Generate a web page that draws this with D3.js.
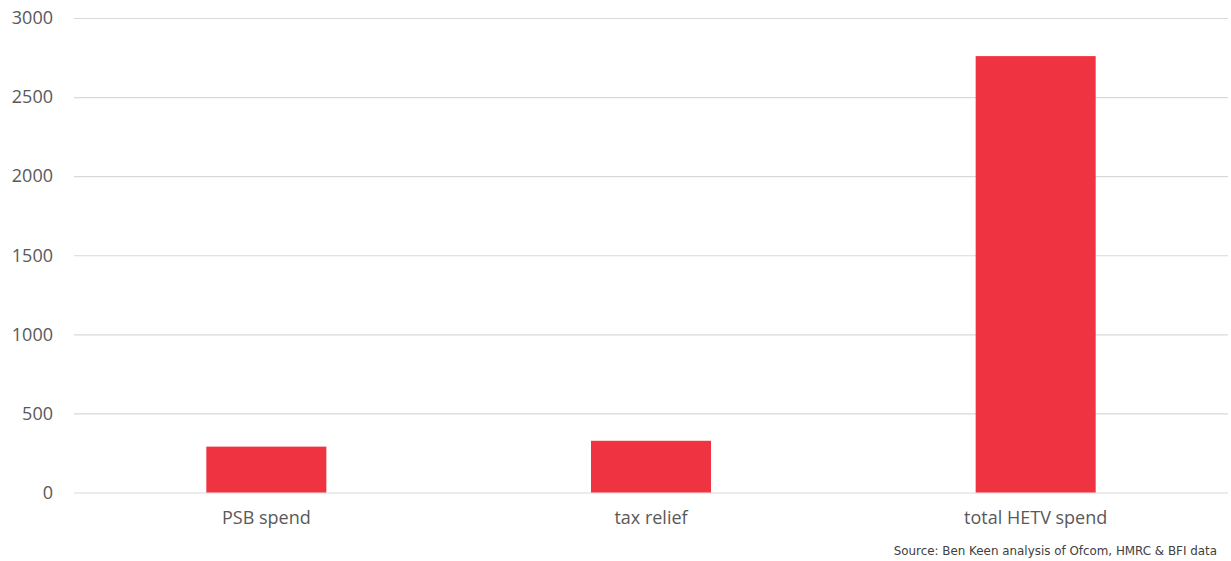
<!DOCTYPE html>
<html>
<head>
<meta charset="utf-8">
<script src="https://cdn.jsdelivr.net/npm/d3@7"></script>
<style>
  html, body { margin: 0; padding: 0; background: #fff; }
  svg { display: block; }
</style>
</head>
<body>
<svg id="chart" width="1231" height="561"></svg>
<script>
// Spending comparison (£m)
const categories = ["PSB spend", "tax relief", "total HETV spend"];
const values = [290, 327, 2759];
const yTicks = [0, 500, 1000, 1500, 2000, 2500, 3000];
const sourceNote = "Source: Ben Keen analysis of Ofcom, HMRC & BFI data";

const svg = d3.select("#chart");
const margin = { left: 74, right: 3, top: 18, bottom: 68.5 };
const width = 1231, height = 561;

const x = d3.scaleBand()
  .domain(categories)
  .range([margin.left, width - margin.right])
  .paddingInner(0.688)
  .paddingOuter(0.344);

const y = d3.scaleLinear()
  .domain([0, 3000])
  .range([height - margin.bottom, margin.top]);

// Horizontal gridlines with value labels
const yAxis = d3.axisLeft(y)
  .tickValues(yTicks)
  .tickSize(-(width - margin.left - margin.right))
  .tickPadding(21)
  .tickFormat(d3.format("d"));

const gy = svg.append("g")
  .attr("transform", `translate(${margin.left},0)`)
  .call(yAxis);
gy.select(".domain").remove();
gy.selectAll(".tick line").attr("stroke", "#d9d9d9").attr("stroke-width", 1.2);
gy.selectAll(".tick text")
  .attr("fill", "#595959")
  .style("font-family", "'Open Sans', sans-serif")
  .style("font-size", "18px");

// Bars
svg.append("g").selectAll("rect")
  .data(categories)
  .join("rect")
  .attr("x", d => x(d))
  .attr("width", x.bandwidth())
  .attr("y", (d, i) => y(values[i]))
  .attr("height", (d, i) => y(0) - y(values[i]))
  .attr("fill", "#ef3340");

// Category labels
const xAxis = d3.axisBottom(x).tickSize(0).tickPadding(19);
const gx = svg.append("g")
  .attr("transform", `translate(0,${y(0)})`)
  .call(xAxis);
gx.select(".domain").remove();
gx.selectAll(".tick text")
  .attr("fill", "#595959")
  .style("font-family", "'Open Sans', sans-serif")
  .style("font-size", "18px");

// Source note
svg.append("text")
  .attr("x", 1217)
  .attr("y", 555)
  .attr("text-anchor", "end")
  .attr("fill", "#404040")
  .style("font-family", "'DejaVu Sans', sans-serif")
  .style("font-size", "11.9px")
  .text(sourceNote);
</script>
</body>
</html>
